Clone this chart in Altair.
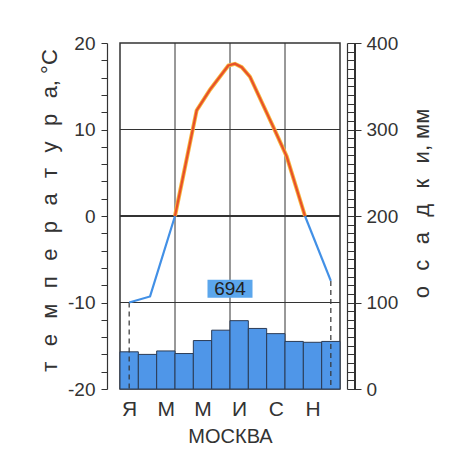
import altair as alt
import pandas as pd

# ---- data ----
month_letters = ["Я", "Ф", "М", "А", "М", "И", "И", "А", "С", "О", "Н", "Д"]
precip_mm = [43, 40, 44, 41, 56, 68, 79, 70, 64, 55, 54, 55]
annual_total = 694

# temperature curve (month position, °C)
cold1_x = [0.5, 1.64, 3.0]
cold1_t = [-10.0, -9.3, 0.0]
warm_x = [3.0, 4.18, 4.91, 5.91, 6.27, 6.64, 7.09, 8.36, 9.09, 10.09]
warm_t = [0.0, 12.2, 14.6, 17.4, 17.6, 17.2, 16.1, 10.3, 6.9, 0.0]
cold2_x = [10.09, 11.5]
cold2_t = [0.0, -7.5]

grid_months = [3, 6, 9]
grid_temps = [-10, 10]
zero_temp = [0]

W, H = 220, 346
TXT = "#333333"
FONT = "Liberation Sans Narrow, Liberation Sans, Arial, sans-serif"
SP = "\u2002\u2009"

xscale = alt.Scale(domain=[0, 12], nice=False, zero=False)
tscale = alt.Scale(domain=[-20, 20], nice=False, zero=False)
pscale = alt.Scale(domain=[0, 400], nice=False)

bars_df = pd.DataFrame({
    "m0": list(range(12)),
    "m1": [i + 1 for i in range(12)],
    "p": precip_mm,
})
seg = pd.DataFrame(
    [{"x": x, "t": t, "part": "c1", "o": i} for i, (x, t) in enumerate(zip(cold1_x, cold1_t))]
    + [{"x": x, "t": t, "part": "w", "o": i} for i, (x, t) in enumerate(zip(warm_x, warm_t))]
    + [{"x": x, "t": t, "part": "c2", "o": i} for i, (x, t) in enumerate(zip(cold2_x, cold2_t))]
)
cold = seg[seg.part != "w"]
warm = seg[seg.part == "w"]
ends = pd.DataFrame({"x": [cold1_x[0], cold2_x[-1]], "t": [cold1_t[0], cold2_t[-1]], "b": [-20, -20]})
label_df = pd.DataFrame({"x": [6.0], "t": [-8.4], "txt": [str(annual_total)]})
vgrid = pd.DataFrame({"x": grid_months})
hgrid = pd.DataFrame({"t": grid_temps})
zgrid = pd.DataFrame({"t": zero_temp})

label_expr = ("datum.value == 0.5 ? 'Я' : datum.value == 2.5 ? 'М' : datum.value == 4.5 ? 'М' : "
              "datum.value == 6.5 ? 'И' : datum.value == 8.5 ? 'С' : 'Н'")

x_axis = alt.Axis(
    orient="bottom",
    values=[0.5, 2.5, 4.5, 6.5, 8.5, 10.5], labelExpr=label_expr,
    domain=False, ticks=False, grid=False,
    labelFont=FONT, labelFontSize=21, labelColor=TXT, labelPadding=9,
    title="МОСКВА", titleFont=FONT, titleFontSize=20, titleFontWeight="normal",
    titleColor=TXT, titlePadding=7)
t_axis = alt.Axis(
    orient="left", values=list(range(-20, 21, 2)), offset=13,
    labelExpr="datum.value % 10 === 0 ? datum.value : ''",
    tickSize=6, tickColor=TXT, domainColor=TXT, domainWidth=1.2,
    labelFont=FONT, labelFontSize=19, labelColor=TXT, labelPadding=6,
    title=SP.join(list("температура")) + ",  °C", titleFont=FONT, titleFontSize=22,
    titleFontWeight="normal", titleColor=TXT, titleAngle=270,
    titleX=-58, titleY=167, titleAlign="center", titleBaseline="middle",
    grid=False)
p_axis = alt.Axis(
    orient="right", values=list(range(0, 401, 10)), offset=7,
    labelExpr="datum.value % 100 === 0 ? datum.value : ''",
    tickSize={"condition": {"test": "datum.value % 100 === 0", "value": 14}, "value": 8},
    tickColor=TXT, domainColor=TXT, domainWidth=1.2, tickWidth=1,
    labelFont=FONT, labelFontSize=19, labelColor=TXT, labelPadding=5,
    title=SP.join(list("осадки")) + ",  мм", titleFont=FONT, titleFontSize=22,
    titleFontWeight="normal", titleColor=TXT, titleAngle=270,
    titleX=74, titleY=160, titleAlign="center", titleBaseline="middle",
    grid=False)


def X(field):
    return alt.X(field, scale=xscale, axis=x_axis)


vg = alt.Chart(vgrid).mark_rule(color=TXT, strokeWidth=1).encode(x=X("x:Q"))
hg = alt.Chart(hgrid).mark_rule(color=TXT, strokeWidth=1).encode(
    y=alt.Y("t:Q", scale=tscale, axis=t_axis))
zg = alt.Chart(zgrid).mark_rule(color=TXT, strokeWidth=2.2).encode(
    y=alt.Y("t:Q", scale=tscale, axis=None))

bars = alt.Chart(bars_df).mark_bar(color="#4f96e8", stroke="#2b3b55", strokeWidth=1).encode(
    x=X("m0:Q"),
    x2="m1:Q",
    y=alt.Y("p:Q", scale=pscale, axis=p_axis),
    y2=alt.datum(0),
)
ladder = alt.Chart(bars_df).mark_rule(color=TXT, strokeWidth=1.2).encode(
    x=alt.value(W + 15), y=alt.value(0), y2=alt.value(H))

dashes = alt.Chart(ends).mark_rule(color=TXT, strokeDash=[5, 4], strokeWidth=1.2).encode(
    x=X("x:Q"), y=alt.Y("t:Q", scale=tscale, axis=None), y2="b:Q")
cold_line = alt.Chart(cold).mark_line(color="#4290e6", strokeWidth=2.2).encode(
    x=X("x:Q"), y=alt.Y("t:Q", scale=tscale, axis=None), detail="part:N", order="o:Q")
warm_glow = alt.Chart(warm).mark_line(color="#f6b53c", strokeWidth=4).encode(
    x=X("x:Q"), y=alt.Y("t:Q", scale=tscale, axis=None), order="o:Q")
warm_line = alt.Chart(warm).mark_line(color="#e8502a", strokeWidth=2.2).encode(
    x=X("x:Q"), y=alt.Y("t:Q", scale=tscale, axis=None), order="o:Q")
box = alt.Chart(label_df).mark_point(
    shape="M-1,-0.4L1,-0.4L1,0.4L-1,0.4Z", size=2025, filled=True,
    color="#5ba6ec", opacity=1).encode(
    x=X("x:Q"), y=alt.Y("t:Q", scale=tscale, axis=None))
box_txt = alt.Chart(label_df).mark_text(
    font=FONT, fontSize=19, color="#222222", baseline="middle", align="center").encode(
    x=X("x:Q"), y=alt.Y("t:Q", scale=tscale, axis=None), text="txt:N")

chart = alt.layer(vg, hg, zg, bars, ladder, dashes, cold_line, warm_glow, warm_line,
                  box, box_txt).resolve_scale(y="independent").properties(
    width=W, height=H,
    autosize=alt.AutoSizeParams(type="none"),
    padding={"left": 112, "top": 35, "right": 110, "bottom": 60},
    background="white",
).configure_view(stroke=TXT, strokeWidth=1.5)

chart.save("out.html", embed_options={"renderer": "svg", "actions": False})
